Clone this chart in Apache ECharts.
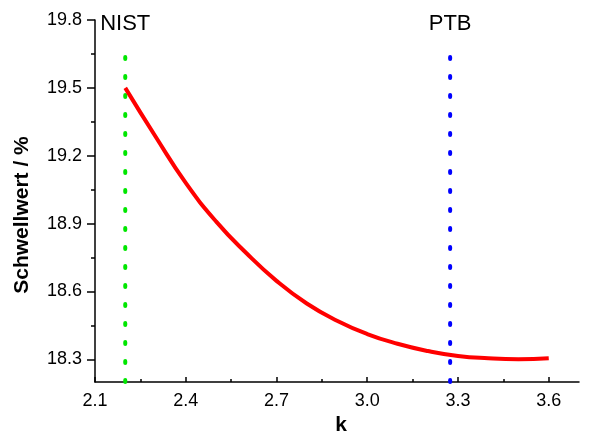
<!DOCTYPE html>
<html>
<head>
<meta charset="utf-8">
<script src="https://cdn.jsdelivr.net/npm/echarts@6/dist/echarts.min.js"></script>
<style>
  html, body { margin: 0; padding: 0; background: #fff; }
  #main { width: 589px; height: 433px; }
</style>
</head>
<body>
<div id="main"></div>
<script>
// Kurve
var kValues = [2.2, 2.3, 2.4, 2.5, 2.6, 2.7, 2.8, 2.9, 3.0, 3.1, 3.2, 3.3, 3.4, 3.5, 3.6];
var schwellwert = [19.50, 19.285, 19.08, 18.91, 18.77, 18.647, 18.547, 18.471, 18.412, 18.369, 18.337, 18.315, 18.305, 18.301, 18.305];

// Markierungen
var markNames = ["NIST", "PTB"];
var markK = [2.2, 3.274];
var markColors = ["#00e600", "#0000ff"];
var markRange = [18.2, 19.645];

// Achsen
var xTicks = [2.1, 2.4, 2.7, 3.0, 3.3, 3.6];
var xMinor = [2.25, 2.55, 2.85, 3.15, 3.45];
var yTicks = [18.3, 18.6, 18.9, 19.2, 19.5, 19.8];
var yMinor = [18.45, 18.75, 19.05, 19.35, 19.65];

var font = "'Liberation Sans', Arial, sans-serif";

var curveData = kValues.map(function (k, i) { return [k, schwellwert[i]]; });

var markSeries = markNames.map(function (name, i) {
  return {
    name: name,
    type: "line",
    symbol: "circle",
    symbolSize: 0,
    showSymbol: true,
    silent: true,
    data: [
      [markK[i], markRange[0]],
      {
        value: [markK[i], markRange[1]],
        label: {
          show: true,
          position: "top",
          distance: 20,
          formatter: name,
          color: "#000",
          fontSize: 22,
          fontFamily: font
        }
      }
    ],
    lineStyle: {
      color: markColors[i],
      width: 4,
      type: [2, 17],
      cap: "round"
    }
  };
});

var chart = echarts.init(document.getElementById("main"));
chart.setOption({
  animation: false,
  grid: { left: 95, right: 10, top: 20, bottom: 51, containLabel: false, outerBoundsMode: "none" },
  xAxis: [
    {
      type: "value",
      min: 2.1,
      max: 3.7,
      name: "k",
      nameLocation: "middle",
      nameGap: 29,
      nameTextStyle: { fontSize: 21, fontWeight: "bold", fontFamily: font, color: "#000", padding: [0, 0, 0, 8] },
      axisLine: { lineStyle: { color: "#000", width: 1.5 } },
      axisTick: { inside: true, length: 5, customValues: xTicks, lineStyle: { color: "#000", width: 1.5 } },
      axisLabel: {
        customValues: xTicks,
        margin: 10,
        fontSize: 18,
        fontFamily: font,
        color: "#000",
        formatter: function (v) { return v.toFixed(1); }
      },
      splitLine: { show: false }
    },
    {
      type: "value",
      min: 2.1,
      max: 3.7,
      position: "bottom",
      axisLine: { show: false },
      axisTick: { inside: true, length: 3, customValues: xMinor, lineStyle: { color: "#000", width: 1.5 } },
      axisLabel: { show: false },
      splitLine: { show: false }
    }
  ],
  yAxis: [
    {
      type: "value",
      min: 18.2,
      max: 19.8,
      name: "Schwellwert / %",
      nameLocation: "middle",
      nameGap: 62,
      nameTextStyle: { fontSize: 21, fontWeight: "bold", fontFamily: font, color: "#000", padding: [0, 28, 0, 0] },
      axisLine: { show: true, lineStyle: { color: "#000", width: 1.5 } },
      axisTick: { show: true, length: 8, customValues: yTicks, lineStyle: { color: "#000", width: 1.5 } },
      axisLabel: {
        customValues: yTicks,
        margin: 13,
        fontSize: 18,
        fontFamily: font,
        color: "#000",
        formatter: function (v) { return v.toFixed(1); }
      },
      splitLine: { show: false }
    },
    {
      type: "value",
      min: 18.2,
      max: 19.8,
      position: "left",
      axisLine: { show: false },
      axisTick: { show: true, length: 4, customValues: yMinor, lineStyle: { color: "#000", width: 1.5 } },
      axisLabel: { show: false },
      splitLine: { show: false }
    }
  ],
  series: markSeries.concat([
    {
      name: "Schwellwert",
      type: "line",
      symbol: "none",
      smooth: true,
      data: curveData,
      lineStyle: { color: "#ff0000", width: 4 }
    }
  ])
});
</script>
</body>
</html>
